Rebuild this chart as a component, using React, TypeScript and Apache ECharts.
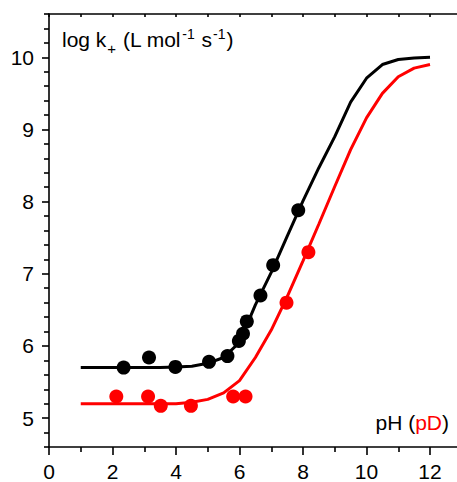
import React, { useEffect, useRef } from 'react';
import * as echarts from 'echarts';

const FONT = '"Liberation Sans", Arial, sans-serif';

// axis tick positions
const xMajorTicks = [0, 2, 4, 6, 8, 10, 12];
const xMinorTicks = [1, 3, 5, 7, 9, 11];
const xTopTicks = [0, 1, 2, 3, 4, 5, 6, 7, 8, 9, 10, 11, 12];
const yMajorTicks = [5, 6, 7, 8, 9, 10];
const yMinorTicks = [
  4.6, 4.8, 5.2, 5.4, 5.6, 5.8, 6.2, 6.4, 6.6, 6.8, 7.2, 7.4, 7.6, 7.8,
  8.2, 8.4, 8.6, 8.8, 9.2, 9.4, 9.6, 9.8, 10.2, 10.4, 10.6,
];

// fitted curves (pH / pD)
const curveX = [1, 1.5, 2, 2.5, 3, 3.5, 4, 4.5, 5, 5.5, 6, 6.5, 7, 7.5, 8, 8.5, 9, 9.5, 10, 10.5, 11, 11.5, 12];
const curveBlack = [5.7, 5.7, 5.7, 5.7, 5.7, 5.7, 5.71, 5.72, 5.76, 5.84, 6.05, 6.57, 7.02, 7.52, 8.01, 8.47, 8.9, 9.38, 9.71, 9.9, 9.97, 9.99, 10.0];
const curveRed = [5.2, 5.2, 5.2, 5.2, 5.2, 5.2, 5.2, 5.22, 5.26, 5.35, 5.52, 5.84, 6.22, 6.68, 7.18, 7.69, 8.21, 8.72, 9.16, 9.5, 9.73, 9.85, 9.9];

// measured points
const phBlack = [2.35, 3.15, 3.98, 5.04, 5.62, 5.98, 6.11, 6.23, 6.66, 7.06, 7.85];
const logkBlack = [5.7, 5.84, 5.71, 5.78, 5.86, 6.07, 6.17, 6.34, 6.7, 7.12, 7.88];
const pdRed = [2.12, 3.12, 3.52, 4.47, 5.8, 6.19, 7.48, 8.17];
const logkRed = [5.3, 5.3, 5.17, 5.17, 5.3, 5.3, 6.6, 7.3];

const zip = (xs: number[], ys: number[]) => xs.map((x, i) => [x, ys[i]]);

export default function App() {
  const ref = useRef<HTMLDivElement>(null);
  useEffect(() => {
    if (!ref.current) return;
    const chart = echarts.init(ref.current, null, { renderer: 'svg' });
    const axisLine = { show: true, onZero: false, lineStyle: { color: '#000', width: 1.6 } };
    const labelStyle = { color: '#000', fontSize: 21, fontFamily: FONT };
    chart.setOption({
      animation: false,
      grid: { left: 49, top: 14, right: 0, bottom: 32.3, containLabel: false },
      xAxis: [
        {
          type: 'value', min: 0, max: 12.85, position: 'bottom',
          axisLine,
          axisTick: { show: true, inside: false, length: 8, customValues: xMajorTicks, lineStyle: { color: '#000', width: 1.6 } },
          axisLabel: { ...labelStyle, margin: 14, customValues: xMajorTicks },
          splitLine: { show: false },
        },
        {
          type: 'value', min: 0, max: 12.85, position: 'bottom',
          axisLine: { show: false },
          axisTick: { show: true, inside: false, length: 5, customValues: xMinorTicks, lineStyle: { color: '#000', width: 1.6 } },
          axisLabel: { show: false },
          splitLine: { show: false },
        },
        {
          type: 'value', min: 0, max: 12.85, position: 'top',
          axisLine,
          axisTick: { show: true, inside: true, length: 3, customValues: xTopTicks, lineStyle: { color: '#000', width: 1.6 } },
          axisLabel: { show: false },
          splitLine: { show: false },
        },
      ],
      yAxis: [
        {
          type: 'value', min: 4.6, max: 10.6, position: 'left',
          axisLine,
          axisTick: { show: true, inside: false, length: 7, customValues: yMajorTicks, lineStyle: { color: '#000', width: 1.6 } },
          axisLabel: { ...labelStyle, margin: 15, customValues: yMajorTicks },
          splitLine: { show: false },
        },
        {
          type: 'value', min: 4.6, max: 10.6, position: 'left',
          axisLine: { show: false },
          axisTick: { show: true, inside: false, length: 5, customValues: yMinorTicks, lineStyle: { color: '#000', width: 1.6 } },
          axisLabel: { show: false },
          splitLine: { show: false },
        },
      ],
      series: [
        {
          type: 'line', data: zip(curveX, curveBlack), showSymbol: false, symbol: 'none',
          lineStyle: { color: '#000', width: 3 }, z: 2,
        },
        {
          type: 'line', data: zip(curveX, curveRed), showSymbol: false, symbol: 'none',
          lineStyle: { color: '#ff0000', width: 3 }, z: 2,
        },
        {
          type: 'scatter', data: zip(phBlack, logkBlack), symbol: 'circle', symbolSize: 14,
          itemStyle: { color: '#000', opacity: 1 }, z: 3,
        },
        {
          type: 'scatter', data: zip(pdRed, logkRed), symbol: 'circle', symbolSize: 14,
          itemStyle: { color: '#ff0000', opacity: 1 }, z: 3,
        },
      ],
      graphic: [
        {
          type: 'text', x: 62, y: 39.4, z: 10,
          style: {
            text: '{m|log k}{sub|+}{m| (L mol}{sup|-1}{m| s}{sup|-1}{m|)}',
            align: 'left', verticalAlign: 'middle',
            rich: {
              m: { fontSize: 21, fontFamily: FONT, fill: '#000' },
              sub: { fontSize: 15, fontFamily: FONT, fill: '#000', padding: [19, 1, 0, 1] },
              sup: { fontSize: 14, fontFamily: FONT, fill: '#000', padding: [0, 1, 11, 1] },
            },
          },
        },
        {
          type: 'text', x: 449, y: 422.6, z: 10,
          style: {
            text: '{m|pH (}{r|pD}{m|)}',
            align: 'right', verticalAlign: 'middle',
            rich: {
              m: { fontSize: 21, fontFamily: FONT, fill: '#000' },
              r: { fontSize: 21, fontFamily: FONT, fill: '#ff0000' },
            },
          },
        },
      ],
    });
    return () => chart.dispose();
  }, []);
  return (
    <div
      ref={ref}
      style={{ position: 'absolute', left: 0, top: 0, width: 457, height: 482, background: '#fff' }}
    />
  );
}
